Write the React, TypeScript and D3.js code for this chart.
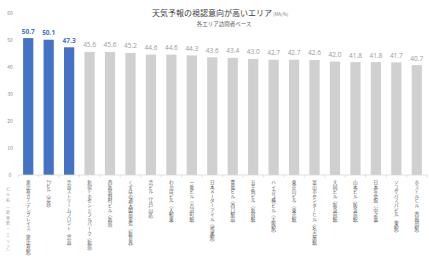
import React from "react";
import * as d3 from "d3";

const categories = [
  "恵比寿ガーデンプレイス（恵比寿駅）",
  "Zビル（渋谷）",
  "渋谷ストリームフロント（渋谷）",
  "新宿トホセントラルパーク（新宿）",
  "西新宿野村ビル（新宿）",
  "くずはの通天閣前電気（新世界）",
  "渋ビル（江戸川区）",
  "わかばビル（入船東）",
  "一番ビル（古河町駅）",
  "日本メーターアイル（鳴尾駅）",
  "豊島ビル（西口駅前）",
  "五千無ビル（新宿駅）",
  "ハイカラ横ビル（大阪駅）",
  "東京山ビル（東京駅）",
  "富山ホセンターヒル（名古屋駅）",
  "大同ビル（阪急前駅）",
  "山本ビル（阪急前駅）",
  "日本年金館（中之島）",
  "ソフザバスパビル（東駅）",
  "ホストルヒル（西梅田駅）",
];
const values = [50.7, 50.1, 47.3, 45.6, 45.6, 45.2, 44.6, 44.6, 44.3, 43.6, 43.4, 43.0, 42.7, 42.7, 42.6, 42.0, 41.8, 41.8, 41.7, 40.7];
const highlightCount = 3;
const yTicks = [0, 10, 20, 30, 40, 50, 60];
const title = "天気予報の視認意向が高いエリア";
const unit = "(MA/%)";
const subtitle = "各エリア訪問者ベース";
const axisTitle = "ビル名（最寄駅・エリア）";

const W = 429;
const H = 264;
const FONT = "'Noto Sans CJK JP', 'Noto Sans', sans-serif";

export default function App() {
  const x = d3
    .scaleBand<number>()
    .domain(values.map((_, i) => i))
    .range([18, 427])
    .paddingInner(0.5)
    .paddingOuter(0.25);
  const y = d3.scaleLinear().domain([0, 60]).range([175, 13]);
  const bw = x.bandwidth();
  const step = x.step();

  return (
    <div style={{ position: "fixed", left: 0, top: 0 }}>
      <svg width={W} height={H} style={{ display: "block", background: "#fff" }} fontFamily={FONT}>
        <text x={212} y={16} textAnchor="middle" fontSize={8} fill="#404040">
          {title}
        </text>
        <text x={273} y={16} fontSize={4.5} fill="#808080">
          {unit}
        </text>
        <text x={224} y={26} textAnchor="middle" fontSize={5.5} fill="#595959">
          {subtitle}
        </text>

        {yTicks.map((t) => (
          <text key={t} x={10} y={y(t) + 1.8} textAnchor="middle" fontSize={5} fill="#8c8c8c">
            {t}
          </text>
        ))}

        {values.map((v, i) => {
          const hl = i < highlightCount;
          const cx = (x(i) as number) + bw / 2;
          return (
            <g key={i}>
              <rect x={x(i)} y={y(v)} width={bw} height={y(0) - y(v)} fill={hl ? "#4472C4" : "#D0D0D0"} />
              <text
                x={cx}
                y={y(v) - 4.5}
                textAnchor="middle"
                fontSize={6.5}
                fontWeight={hl ? "bold" : "normal"}
                fill={hl ? "#4472C4" : "#9a9a9a"}
                fontFamily="'Open Sans', 'Liberation Sans', sans-serif"
              >
                {v.toFixed(1)}
              </text>
            </g>
          );
        })}

        <line x1={18} x2={427} y1={y(0)} y2={y(0)} stroke="#D9D9D9" strokeWidth={0.8} />
        {d3.range(values.length + 1).map((i) => {
          const px = (x(0) as number) - (step - bw) / 2 + i * step;
          return <line key={i} x1={px} x2={px} y1={y(0)} y2={y(0) + 2.5} stroke="#D9D9D9" strokeWidth={0.8} />;
        })}

        {categories.map((c, i) => {
          const cx = (x(i) as number) + bw / 2;
          return (
            <text
              key={i}
              x={cx}
              y={180}
              fontSize={4.6}
              fill="#595959"
              style={{ writingMode: "vertical-rl" as any }}
            >
              {c}
            </text>
          );
        })}

        <text x={8} y={187} fontSize={4} fill="#a0a0a0" letterSpacing={1.8} style={{ writingMode: "vertical-rl" as any }}>
          {axisTitle}
        </text>
      </svg>
    </div>
  );
}
